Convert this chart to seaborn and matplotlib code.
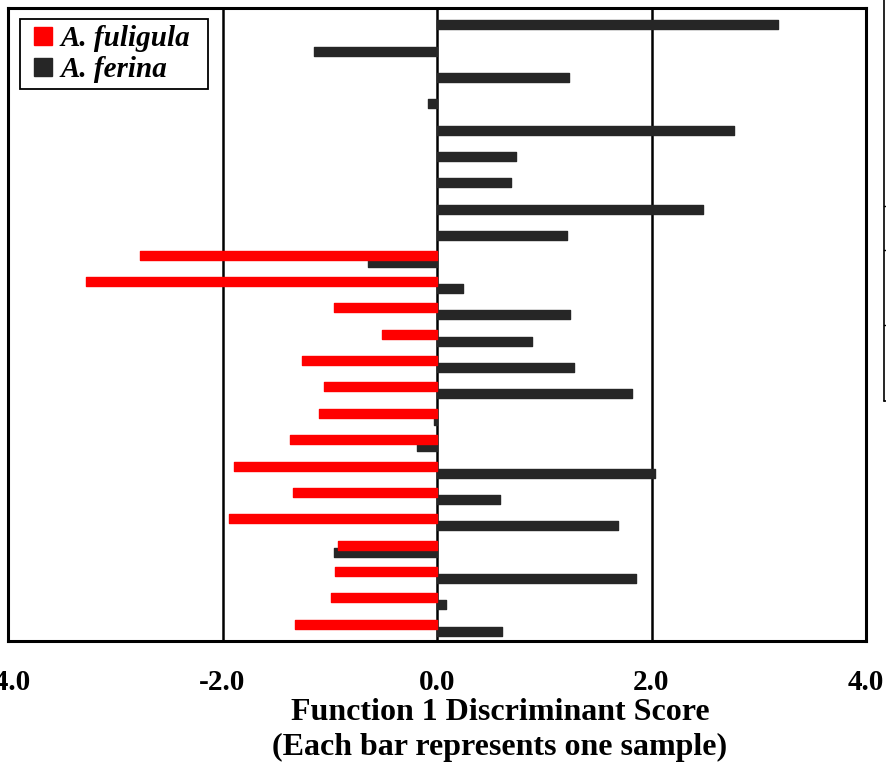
import pandas as pd
import numpy as np
import seaborn as sns
import matplotlib.pyplot as plt
from matplotlib.lines import Line2D

# one sample per row, top to bottom
samples = [str(i) for i in range(1, 25)]
fuligula = [0, 0, 0, 0, 0, 0, 0, 0, 0,
            -2.77, -3.27, -0.96, -0.51, -1.26, -1.05, -1.10, -1.37,
            -1.89, -1.34, -1.94, -0.92, -0.95, -0.99, -1.32]
ferina = [3.18, -1.15, 1.23, -0.08, 2.77, 0.74, 0.69, 2.48, 1.21,
          -0.64, 0.24, 1.24, 0.89, 1.28, 1.82, -0.03, -0.19,
          2.03, 0.59, 1.69, -0.96, 1.86, 0.08, 0.61]
species = ['A. fuligula', 'A. ferina']
colors = ['#ff0000', '#262626']

df = pd.DataFrame({'sample': samples * 2,
                   'score': fuligula + ferina,
                   'species': [species[0]] * 24 + [species[1]] * 24})

sns.set_style('white')
plt.rcParams['font.family'] = ['Liberation Serif', 'DejaVu Serif']
plt.rcParams['font.weight'] = 'bold'
plt.rcParams['text.color'] = 'black'
plt.rcParams['xtick.color'] = 'black'
plt.rcParams['axes.labelcolor'] = 'black'

fig = plt.figure(figsize=(8.86, 7.65), dpi=100)
ax = fig.add_axes([8/886, 124/765, 858/886, 633/765])

sns.barplot(data=df, x='score', y='sample', hue='species', orient='h',
            palette=dict(zip(species, colors)), width=0.53, saturation=1,
            dodge=True, legend=False, ax=ax)

# bars in the original overlap a little; fatten them and keep red on top
for bars, z in zip(ax.containers, [3, 2]):
    for p in bars:
        h = p.get_height()
        p.set_y(p.get_y() - h * 0.14)
        p.set_height(h * 1.28)
        p.set_zorder(z)
        p.set_edgecolor(p.get_facecolor())
        p.set_linewidth(1 if p.get_width() != 0 else 0)
        p.set_joinstyle('round')

ax.set_xlim(-4, 4)
ax.set_xticks([-4, -2, 0, 2, 4])
ax.set_xticklabels(['-4.0', '-2.0', '0.0', '2.0', '4.0'], fontsize=21, fontweight='bold')
ax.tick_params(axis='x', length=0, pad=20)
ax.set_yticks([])
ax.set_ylabel('')
ax.set_xlabel('Function 1 Discriminant Score\n(Each bar represents one sample)',
              fontsize=23, fontweight='bold', linespacing=1.26, va='top')
ax.xaxis.set_label_coords((500 - 8) / 858, -57 / 633)

ax.grid(axis='x', color='black', linewidth=1.8)
ax.set_axisbelow(True)
for s in ax.spines.values():
    s.set_color('black')
    s.set_linewidth(2.2)

handles = [Line2D([], [], marker='s', linestyle='none', markersize=12.5,
                  markerfacecolor=c, markeredgecolor=c) for c in colors]
leg = ax.legend(handles, species, loc='upper left', mode='expand',
                bbox_to_anchor=(12/858, 1 - 11/633, 188/858, 0.0),
                prop={'family': 'Liberation Serif', 'weight': 'bold', 'style': 'italic', 'size': 21},
                frameon=True, fancybox=False, edgecolor='black', framealpha=1,
                handlelength=1.2, handletextpad=0.0, numpoints=1,
                borderpad=0.2, labelspacing=0.15, borderaxespad=0)
leg.get_frame().set_linewidth(1.3)

# edge of the neighbouring panel, cut off at the right
fig.add_artist(Line2D([884/886, 884/886], [1, 1 - 401/765], color='black', linewidth=1.2))
fig.add_artist(Line2D([884/886, 1], [1 - 401/765, 1 - 401/765], color='black', linewidth=1.2))
for yy in [206, 250, 325]:
    fig.add_artist(Line2D([884/886, 1], [1 - yy/765, 1 - yy/765], color='black', linewidth=1))

plt.savefig('out.png', dpi=100)
